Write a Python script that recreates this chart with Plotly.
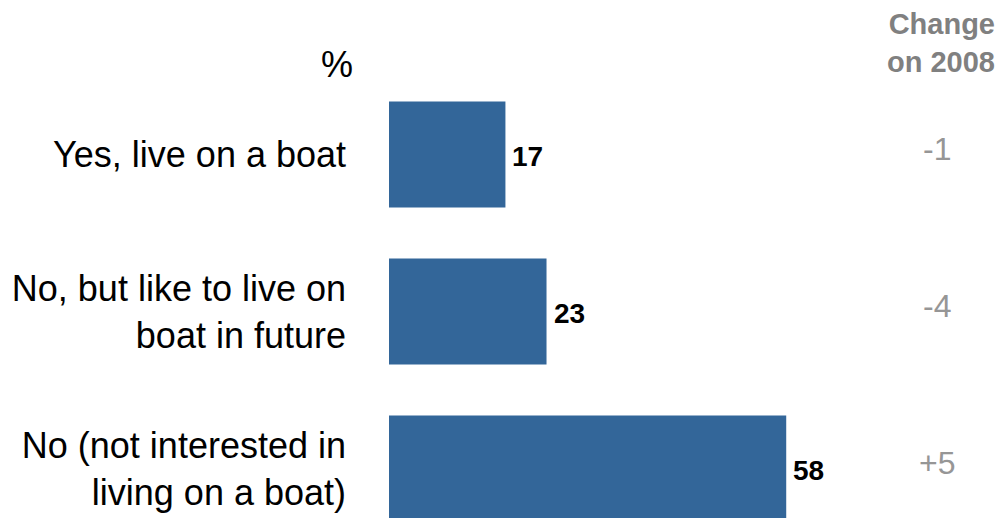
import plotly.graph_objects as go

categories = ["Yes, live on a boat",
              "No, but like to live on<br>boat in future",
              "No (not interested in<br>living on a boat)"]
values = [17, 23, 58]
value_labels = ["17", "23", "58"]
changes = ["-1", "-4", "+5"]
change_header = "Change<br>on 2008"
unit_label = "%"

FONT = "Arial, Liberation Sans, sans-serif"

fig = go.Figure()
fig.add_trace(go.Bar(
    x=values, y=categories, orientation="h",
    marker=dict(color="#336699", line=dict(width=0)),
    width=0.675,
    hoverinfo="skip",
))

annotations = []
for cat, v, lab in zip(categories, values, value_labels):
    annotations.append(dict(
        x=v, xref="x", y=cat, yref="y", text=lab, showarrow=False,
        xanchor="left", yanchor="middle", xshift=5, yshift=-2,
        font=dict(family=FONT, size=28, color="#000000", weight="bold")))
for cat, ch in zip(categories, changes):
    annotations.append(dict(
        x=0.891, xref="paper", y=cat, yref="y", text=ch, showarrow=False,
        xanchor="center", yanchor="middle", yshift=6,
        font=dict(family=FONT, size=32, color="#969696")))
annotations.append(dict(
    x=1, xref="paper", xshift=-7, y=1.075, yref="paper", text=change_header,
    showarrow=False, xanchor="right", yanchor="middle", align="right",
    font=dict(family=FONT, size=29, color="#808080", weight="bold")))
annotations.append(dict(
    x=0, xref="paper", xshift=-34, y=1.025, yref="paper", text=unit_label,
    showarrow=False, xanchor="right", yanchor="middle",
    font=dict(family=FONT, size=36, color="#000000")))

fig.update_layout(
    width=996, height=510,
    margin=dict(l=381, r=0, t=68, b=0),
    paper_bgcolor="white", plot_bgcolor="white",
    showlegend=False,
    annotations=annotations,
    xaxis=dict(range=[0, 89.8], visible=False, fixedrange=True),
    yaxis=dict(type="category", categoryorder="array", categoryarray=categories,
               range=[2.315, -0.5], showgrid=False, zeroline=False,
               showline=False, ticks="", ticklabelstandoff=42,
               tickfont=dict(family=FONT, size=36, color="#000000")),
)

fig.write_html("out.html")
